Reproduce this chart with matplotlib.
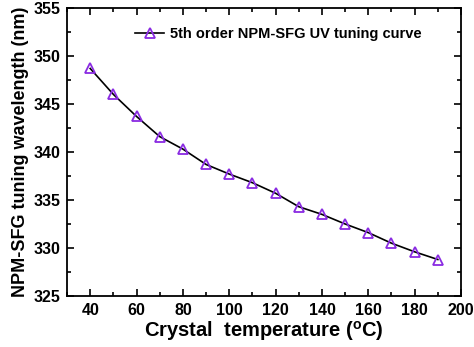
import matplotlib
matplotlib.use("Agg")
import matplotlib.pyplot as plt
from matplotlib.ticker import MultipleLocator

temperature = [40, 50, 60, 70, 80, 90, 100, 110, 120, 130, 140, 150, 160, 170, 180, 190]
wavelength = [348.7, 346.0, 343.7, 341.6, 340.3, 338.7, 337.7, 336.8, 335.7, 334.3,
              333.5, 332.5, 331.6, 330.5, 329.6, 328.8]
series_label = "5th order NPM-SFG UV tuning curve"

plt.rcParams['font.family'] = ['Liberation Sans', 'DejaVu Sans']
plt.rcParams['font.weight'] = 'bold'
plt.rcParams['mathtext.default'] = 'regular'

fig = plt.figure(figsize=(4.74, 3.47), dpi=100)
ax = fig.add_axes([0.1414, 0.147, 0.8312, 0.830])

ax.plot(temperature, wavelength, color='black', lw=1.2,
        marker='^', markersize=6.5, markerfacecolor='none',
        markeredgecolor='#8A2BE2', markeredgewidth=1.3, label=series_label)

ax.set_xlim(30, 200)
ax.set_ylim(325, 355)
ax.xaxis.set_major_locator(MultipleLocator(20))
ax.xaxis.set_minor_locator(MultipleLocator(10))
ax.yaxis.set_major_locator(MultipleLocator(5))
ax.yaxis.set_minor_locator(MultipleLocator(2.5))
ax.tick_params(which='both', direction='in', top=True, right=True, width=1.2)
ax.tick_params(which='major', length=5, labelsize=11.5, pad=5)
ax.tick_params(which='minor', length=3)
for lab in ax.get_xticklabels() + ax.get_yticklabels():
    lab.set_fontweight('bold')
for s in ax.spines.values():
    s.set_linewidth(1.3)

ax.set_xlabel("Crystal  temperature ($^\\mathregular{o}$C)", fontsize=14.5, fontweight='bold', labelpad=1)
ax.set_ylabel("NPM-SFG tuning wavelength (nm)", fontsize=13, fontweight='bold', labelpad=3)

leg = ax.legend(loc='center right', bbox_to_anchor=(0.915, 0.91), frameon=False,
                handlelength=2.0, handletextpad=0.4, borderaxespad=0.0,
                prop={'weight': 'bold', 'size': 10.5})

fig.savefig("out.png", dpi=100)
